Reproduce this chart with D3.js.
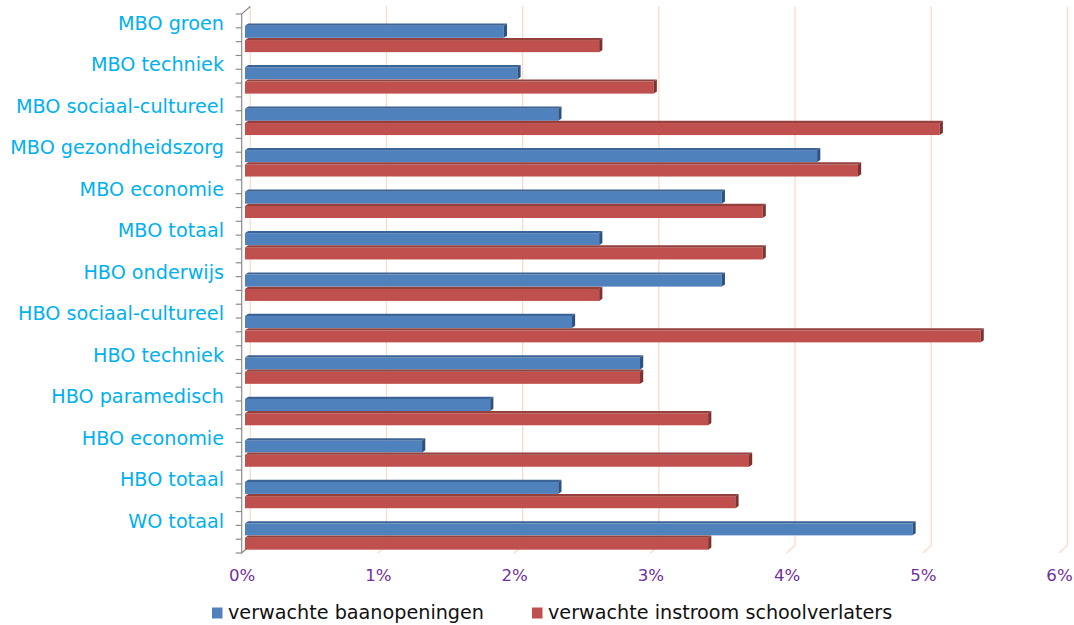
<!DOCTYPE html>
<html>
<head>
<meta charset="utf-8">
<script src="https://cdn.jsdelivr.net/npm/d3@7"></script>
<style>
  html, body { margin: 0; padding: 0; background: #fff; }
  svg { display: block; font-family: "DejaVu Sans", Verdana, sans-serif; }
</style>
</head>
<body>
<svg id="chart" width="1074" height="625"></svg>
<script>
// Categories, top to bottom
const categories = [
  "MBO groen", "MBO techniek", "MBO sociaal-cultureel", "MBO gezondheidszorg",
  "MBO economie", "MBO totaal", "HBO onderwijs", "HBO sociaal-cultureel",
  "HBO techniek", "HBO paramedisch", "HBO economie", "HBO totaal", "WO totaal"
];
// Values in percent
const baanopeningen = [1.9, 2.0, 2.3, 4.2, 3.5, 2.6, 3.5, 2.4, 2.9, 1.8, 1.3, 2.3, 4.9];
const instroom      = [2.6, 3.0, 5.1, 4.5, 3.8, 3.8, 2.6, 5.4, 2.9, 3.4, 3.7, 3.6, 3.4];
const seriesNames = ["verwachte baanopeningen", "verwachte instroom schoolverlaters"];
const tickValues = [0, 1, 2, 3, 4, 5, 6];

const series = [
  { name: seriesNames[0], values: baanopeningen, face: "#4F81BD", topFace: "#3B6396", side: "#2E527F" },
  { name: seriesNames[1], values: instroom,      face: "#C0504D", topFace: "#94403D", side: "#7A3331" }
];

const svg = d3.select("#chart");

// Plot geometry (front plane, with a shallow 3D depth to the back wall)
const frontLeft = 241.7, plotTop = 14, plotBottom = 553;
const depthX = 8.5, depthY = -7.5;
const barOffset = 3.3;           // bars sit slightly behind the front plane

const x = d3.scaleLinear().domain([0, 6]).range([0, 817.3]);
const y = d3.scaleBand().domain(categories).range([plotTop, plotBottom]).padding(0);
const bw = y.bandwidth();
const yInner = d3.scaleBand().domain(seriesNames)
  .range([bw * 0.285, bw * 0.92]).paddingInner(0.16);

// Back wall gridlines with their floor edges
const grid = svg.append("g");
tickValues.forEach(t => {
  const xb = frontLeft + x(t) + depthX;
  grid.append("path")
    .attr("d", `M${xb},${plotTop + depthY} L${xb},${plotBottom + depthY} L${xb - depthX},${plotBottom}`)
    .attr("fill", "none")
    .attr("stroke", "#FADBC8")
    .attr("stroke-width", 1.3);
});

// Left (category) axis with 3D corners
const axisG = svg.append("g");
axisG.append("path")
  .attr("d", `M${frontLeft + depthX},${plotTop + depthY} L${frontLeft},${plotTop} L${frontLeft},${plotBottom} L${frontLeft + depthX},${plotBottom + depthY}`)
  .attr("fill", "none")
  .attr("stroke", "#8C8C8C")
  .attr("stroke-width", 1.2);
const minorTicks = d3.range(0, categories.length * 3 + 1).map(i => plotTop + i * bw / 3);
axisG.selectAll("line.tick").data(minorTicks).join("line")
  .attr("class", "tick")
  .attr("x1", frontLeft - 6).attr("x2", frontLeft)
  .attr("y1", d => d).attr("y2", d => d)
  .attr("stroke", "#8C8C8C")
  .attr("stroke-width", 1.2);

// Category labels
svg.append("g").selectAll("text").data(categories).join("text")
  .attr("x", 224)
  .attr("y", d => y(d) + 16)
  .attr("text-anchor", "end")
  .attr("fill", "#00B0F0")
  .attr("font-size", 19.2)
  .text(d => d);

// Value axis labels
const xAxis = d3.axisBottom(d3.scaleLinear().domain([0, 6]).range([frontLeft, frontLeft + x(6)]))
  .tickValues(tickValues)
  .tickFormat(d => d + "%")
  .tickSize(0)
  .tickPadding(0);
const xa = svg.append("g").attr("transform", `translate(0, ${plotBottom + 16})`).call(xAxis);
xa.select(".domain").remove();
xa.selectAll("text")
  .attr("fill", "#7030A0")
  .attr("font-size", 16.6)
  .attr("font-family", "DejaVu Sans, Verdana, sans-serif");

// 3D bars: front face, top face, right side face
const barD = 3.2, barDY = -2.2;
series.forEach(s => {
  const g = svg.append("g");
  categories.forEach((c, i) => {
    const v = s.values[i];
    const x0 = frontLeft + barOffset;
    const x1 = x0 + x(v);
    const y0 = y(c) + yInner(s.name);
    const h = yInner.bandwidth();
    g.append("rect")
      .attr("x", x0).attr("y", y0)
      .attr("width", x1 - x0).attr("height", h)
      .attr("fill", s.face);
    g.append("path")
      .attr("d", `M${x0},${y0} L${x1},${y0} L${x1 + barD},${y0 + barDY} L${x0 + barD},${y0 + barDY} Z`)
      .attr("fill", s.topFace);
    g.append("path")
      .attr("d", `M${x1},${y0} L${x1 + barD},${y0 + barDY} L${x1 + barD},${y0 + h + barDY} L${x1},${y0 + h} Z`)
      .attr("fill", s.side);
  });
});

// Legend
const legendPos = [212, 532];
const legend = svg.append("g");
series.forEach((s, i) => {
  legend.append("rect")
    .attr("x", legendPos[i]).attr("y", 607.5)
    .attr("width", 10.5).attr("height", 11)
    .attr("fill", s.face);
  legend.append("text")
    .attr("x", legendPos[i] + 16).attr("y", 619)
    .attr("fill", "#111")
    .attr("font-size", 19.2)
    .text(s.name);
});
</script>
</body>
</html>
